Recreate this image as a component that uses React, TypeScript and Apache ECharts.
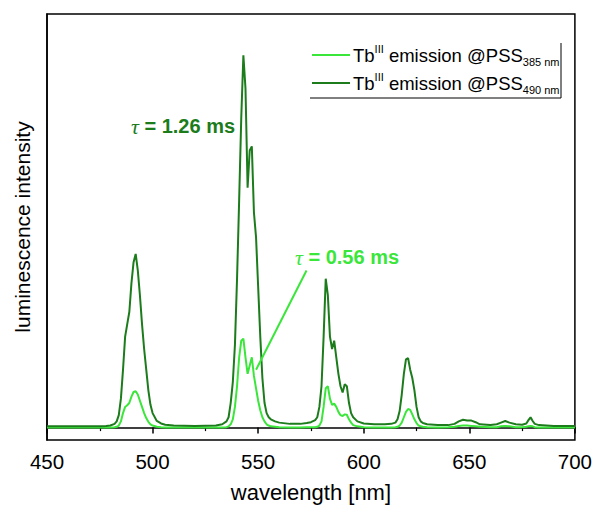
import React, { useEffect, useRef } from "react";
import * as echarts from "echarts";

// wavelength [nm]
const wavelengths = [
  450, 460, 470, 475, 478, 480, 482, 483, 484, 485, 486, 487, 488, 489, 490, 491, 492, 493, 494, 495,
  496, 497, 498, 499, 500, 502, 504, 506, 510, 520, 530, 533, 535, 536, 537, 538, 539, 540, 541, 542,
  543, 544, 545, 546, 547, 548, 549, 550, 551, 552, 553, 554, 555, 556, 558, 560, 565, 570, 573, 575,
  577, 578, 579, 580, 581, 582, 583, 584, 585, 586, 587, 588, 589, 590, 591, 592, 593, 594, 595, 597,
  600, 605, 610, 613, 615, 616, 617, 618, 619, 620, 621, 622, 623, 624, 625, 626, 627, 628, 630, 635,
  640, 643, 645, 647, 649, 651, 653, 655, 660, 663, 665, 667, 669, 672, 675, 677, 678, 679, 680, 681,
  683, 690, 700,
];

// Tb(III) emission @PSS 490 nm (dark green)
const pss490 = [
  0.3, 0.3, 0.3, 0.3, 0.4, 0.5, 0.9, 1.5, 3, 7, 14, 22, 25, 28, 35, 40, 42, 38, 32, 25,
  19, 14, 9, 5.5, 3.5, 1.6, 1.0, 0.7, 0.5, 0.4, 0.5, 0.8, 1.5, 2.5, 6, 11, 20, 36, 55, 75,
  90, 82, 58, 67, 68, 52, 46, 34, 22, 12, 6, 3.5, 2.5, 2, 1.5, 1.2, 0.9, 0.9, 1.1, 1.3,
  1.8, 2.5, 5, 10, 22, 36, 32, 22, 19, 21, 17, 13, 10, 8.5, 10.5, 10, 6, 3.5, 2.5, 1.5,
  1.0, 0.8, 0.8, 0.9, 1.2, 2, 4, 8, 13, 16.5, 16.8, 14, 12, 9, 5, 2.5, 1.5, 1.1, 0.8, 0.6,
  0.6, 0.9, 1.5, 1.9, 1.7, 1.7, 1.3, 0.8, 0.6, 0.8, 1.2, 1.6, 1.2, 0.8, 0.7, 1.0, 1.8, 2.5, 1.6, 0.9,
  0.6, 0.4, 0.4,
];

// Tb(III) emission @PSS 385 nm (bright green)
const pss385 = [
  0, 0, 0, 0, 0, 0, 0.1, 0.2, 0.5, 1.5, 3.5, 5, 5.4, 6, 7.5, 8.6, 8.8, 8, 6.5, 5,
  3.5, 2.3, 1.4, 0.8, 0.5, 0.2, 0.1, 0.05, 0, 0, 0, 0, 0.1, 0.3, 0.8, 2, 5, 10, 17, 21,
  21.5, 17, 13, 15, 17, 12.5, 9.5, 6.5, 4.2, 2.5, 1.5, 0.8, 0.5, 0.3, 0.2, 0.1, 0.05, 0.05, 0.1, 0.1,
  0.1, 0.2, 0.5, 1.5, 5, 9.5, 10, 7, 5.5, 5.8, 5, 3.8, 3, 2.8, 3.2, 3.1, 2, 1.2, 0.6, 0.3,
  0.1, 0.05, 0.05, 0.05, 0.1, 0.2, 0.5, 1.2, 2.5, 3.8, 4.5, 4.3, 3.2, 2, 1.1, 0.5, 0.3, 0.2, 0.1, 0.05,
  0.1, 0.2, 0.4, 0.5, 0.5, 0.4, 0.3, 0.2, 0.1, 0.1, 0.3, 0.4, 0.3, 0.1, 0.1, 0.2, 0.3, 0.4, 0.3, 0.1,
  0.05, 0, 0,
];

const seriesNames = ["Tb(III) emission @PSS385 nm", "Tb(III) emission @PSS490 nm"];
const legendSubs = ["385 nm", "490 nm"];
const lifetimes = ["1.26", "0.56"];
// pointer from the 0.56 ms label to the 385 nm curve: [wavelength, intensity]
const pointerFrom = [572.9, 38];
const pointerTo = [549, 14];

const DARK = "#1c7c1c";
const BRIGHT = "#3ae63a";
const FONT = 'Arial, "Liberation Sans", sans-serif';

export default function App() {
  const ref = useRef<HTMLDivElement>(null);
  useEffect(() => {
    document.body.style.margin = "0";
    const chart = echarts.init(ref.current!, null, { renderer: "svg" });
    const bright = wavelengths.map((w, i) => [w, pss385[i]]);
    const dark = wavelengths.map((w, i) => [w, pss490[i]]);
    const legendRich = {
      m: { fontSize: 18.5, fontFamily: FONT, fill: "#000", lineHeight: 24 },
      sup: { fontSize: 11, fontFamily: FONT, fill: "#000", lineHeight: 12, verticalAlign: "top" },
      sub: { fontSize: 11, fontFamily: FONT, fill: "#000", lineHeight: 10, verticalAlign: "bottom" },
    };
    const tauRich = (color: string) => ({
      t: { fontSize: 22, fontFamily: '"Liberation Serif", "Times New Roman", serif', fontStyle: "italic", fill: color, lineHeight: 24 },
      b: { fontSize: 20, fontFamily: FONT, fontWeight: "bold", fill: color, lineHeight: 24 },
    });
    const option: any = {
      animation: false,
      backgroundColor: "#fff",
      grid: {
        left: 47,
        right: 17,
        top: 14,
        bottom: 65,
        show: true,
        borderColor: "#000",
        borderWidth: 1.5,
        backgroundColor: "transparent",
      },
      xAxis: {
        type: "value",
        min: 450,
        max: 700,
        interval: 50,
        name: "wavelength [nm]",
        nameLocation: "middle",
        nameGap: 41,
        nameTextStyle: { fontSize: 22, fontFamily: FONT, color: "#000" },
        axisLine: { lineStyle: { color: "#000", width: 1.5 } },
        axisTick: { length: 6, lineStyle: { color: "#000", width: 1.5 } },
        minorTick: { show: true, splitNumber: 2, length: 3.5, lineStyle: { color: "#000", width: 1.2 } },
        axisLabel: { fontSize: 20.5, fontFamily: FONT, color: "#000", margin: 11 },
        splitLine: { show: false },
      },
      yAxis: {
        type: "value",
        min: -3,
        max: 100,
        name: "luminescence intensity",
        nameLocation: "middle",
        nameGap: 14,
        nameTextStyle: { fontSize: 21, fontFamily: FONT, color: "#000" },
        axisLine: { show: true, lineStyle: { color: "#000", width: 1.5 } },
        axisTick: { show: false },
        axisLabel: { show: false },
        splitLine: { show: false },
      },
      series: [
        {
          name: seriesNames[0],
          type: "line",
          data: bright,
          showSymbol: false,
          lineStyle: { color: BRIGHT, width: 2 },
          itemStyle: { color: BRIGHT },
          z: 2,
          markLine: {
            silent: true,
            symbol: ["none", "none"],
            label: { show: false },
            lineStyle: { color: BRIGHT, width: 2, type: "solid" },
            data: [[{ coord: pointerFrom }, { coord: pointerTo }]],
          },
        },
        {
          name: seriesNames[1],
          type: "line",
          data: dark,
          showSymbol: false,
          lineStyle: { color: DARK, width: 2 },
          itemStyle: { color: DARK },
          z: 3,
        },
      ],
      graphic: [
        // legend frame (right & bottom edges)
        { type: "line", shape: { x1: 561, y1: 43, x2: 561, y2: 98 }, style: { stroke: "#000", lineWidth: 1 }, z: 10 },
        { type: "line", shape: { x1: 310, y1: 98, x2: 561, y2: 98 }, style: { stroke: "#000", lineWidth: 1 }, z: 10 },
        // legend samples
        { type: "line", shape: { x1: 312, y1: 55, x2: 350, y2: 55 }, style: { stroke: BRIGHT, lineWidth: 2 }, z: 10 },
        { type: "line", shape: { x1: 312, y1: 83, x2: 350, y2: 83 }, style: { stroke: DARK, lineWidth: 2 }, z: 10 },
        {
          type: "text",
          x: 353,
          y: 55,
          z: 10,
          style: {
            text: `{m|Tb}{sup|III}{m| emission @PSS}{sub|${legendSubs[0]}}`,
            rich: legendRich,
            verticalAlign: "middle",
            align: "left",
          },
        },
        {
          type: "text",
          x: 353,
          y: 83,
          z: 10,
          style: {
            text: `{m|Tb}{sup|III}{m| emission @PSS}{sub|${legendSubs[1]}}`,
            rich: legendRich,
            verticalAlign: "middle",
            align: "left",
          },
        },
        {
          type: "text",
          x: 131,
          y: 126,
          z: 10,
          style: {
            text: `{t|τ}{b| = ${lifetimes[0]} ms}`,
            rich: tauRich(DARK),
            verticalAlign: "middle",
            align: "left",
          },
        },
        {
          type: "text",
          x: 295,
          y: 257,
          z: 10,
          style: {
            text: `{t|τ}{b| = ${lifetimes[1]} ms}`,
            rich: tauRich(BRIGHT),
            verticalAlign: "middle",
            align: "left",
          },
        },
      ],
    };
    chart.setOption(option);
    return () => chart.dispose();
  }, []);
  return <div ref={ref} style={{ width: 595, height: 508 }} />;
}
